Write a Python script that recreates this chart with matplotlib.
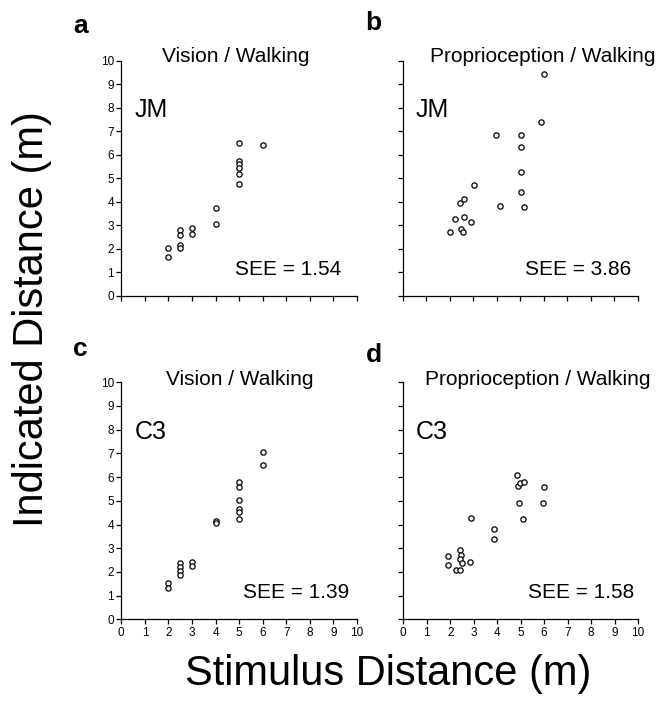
import matplotlib
matplotlib.use("Agg")
import matplotlib.pyplot as plt

plt.rcParams["font.family"] = ["Liberation Sans", "DejaVu Sans"]

# a: JM, Vision / Walking
jm_vis_x = [2, 2, 2.5, 2.5, 2.5, 2.5, 3, 3, 4, 4, 5, 5, 5, 5, 5, 5, 6]
jm_vis_y = [2.06, 1.67, 2.79, 2.58, 2.18, 2.06, 2.89, 2.65, 3.74, 3.05,
            6.50, 5.72, 5.62, 5.45, 5.19, 4.77, 6.40]

# b: JM, Proprioception / Walking
jm_prop_x = [5.99, 5.89, 3.95, 5.04, 5.03, 5.04, 5.03, 4.13, 5.14, 3.04,
             2.61, 2.44, 2.23, 2.60, 2.91, 2.03, 2.46, 2.57]
jm_prop_y = [9.45, 7.41, 6.83, 6.83, 6.32, 5.28, 4.43, 3.83, 3.78, 4.71,
             4.12, 3.96, 3.27, 3.35, 3.15, 2.72, 2.84, 2.72]

# c: C3, Vision / Walking
c3_vis_x = [2, 2, 2.5, 2.5, 2.5, 2.5, 3, 3, 4, 4, 5, 5, 5, 5, 5, 5, 6, 6]
c3_vis_y = [1.52, 1.34, 2.36, 2.22, 2.04, 1.87, 2.43, 2.25, 4.14, 4.05,
            5.78, 5.60, 5.04, 4.66, 4.51, 4.23, 7.05, 6.53]

# d: C3, Proprioception / Walking
c3_prop_x = [4.85, 4.88, 4.99, 5.15, 5.99, 4.95, 5.97, 5.09, 2.88, 3.86,
             3.86, 2.43, 2.45, 2.43, 2.48, 1.90, 1.90, 2.23, 2.40, 2.85]
c3_prop_y = [6.09, 5.63, 5.77, 5.81, 5.57, 4.89, 4.92, 4.23, 4.29, 3.81,
             3.39, 2.94, 2.71, 2.53, 2.37, 2.65, 2.29, 2.07, 2.09, 2.43]

panel_letters = ["a", "b", "c", "d"]
panel_titles = ["Vision / Walking", "Proprioception / Walking",
                "Vision / Walking", "Proprioception / Walking"]
subjects = ["JM", "JM", "C3", "C3"]
see_values = [1.54, 3.86, 1.39, 1.58]
ticks = list(range(0, 11))

W, H = 671, 703
fig = plt.figure(figsize=(W / 100, H / 100), dpi=100)

# axes boxes in pixels: left, top, right, bottom
boxes = [(121.3, 60.7, 357, 296), (402.7, 60.7, 638, 296),
         (121.3, 382.3, 357, 619.3), (403.3, 382.3, 638, 619.3)]
data = [(jm_vis_x, jm_vis_y), (jm_prop_x, jm_prop_y),
        (c3_vis_x, c3_vis_y), (c3_prop_x, c3_prop_y)]
see_x = [4.83, 5.2, 5.15, 5.3]
title_cx = [236, 543, 240, 538]
title_base = [62, 62, 385, 385]
letter_pos = [(73, 33), (365, 30), (73, 356), (366, 362)]

for i, (l, t, r, b) in enumerate(boxes):
    ax = fig.add_axes([l / W, 1 - b / H, (r - l) / W, (b - t) / H])
    x, y = data[i]
    ax.plot(x, y, "o", mfc="white", mec="black", ms=3.8, mew=0.9,
            linestyle="none", clip_on=False)
    ax.set_xlim(0, 10)
    ax.set_ylim(0, 10)
    ax.set_xticks(ticks)
    ax.set_yticks(ticks)
    ax.spines["top"].set_visible(False)
    ax.spines["right"].set_visible(False)
    for s in ("left", "bottom"):
        ax.spines[s].set_linewidth(0.9)
    ax.tick_params(direction="out", length=3.8, width=0.9, labelsize=8.5,
                   pad=1.5)
    if i in (0, 1):
        ax.set_xticklabels([])
    if i in (1, 3):
        ax.set_yticklabels([])
    ax.text(0.55, 7.6, subjects[i], fontsize=18, va="baseline")
    ax.text(see_x[i], 0.88, f"SEE = {see_values[i]:.2f}", fontsize=15,
            va="baseline")
    fig.text(title_cx[i] / W, 1 - title_base[i] / H, panel_titles[i],
             fontsize=15, ha="center", va="baseline")
    lx, ly = letter_pos[i]
    fig.text(lx / W, 1 - ly / H, panel_letters[i], fontsize=19,
             fontweight="bold", va="baseline")

fig.text(52 / W, 1 - 319 / H, "Indicated Distance (m)", fontsize=30,
         rotation=90, ha="right", va="center")
fig.text(388 / W, 1 - 685 / H, "Stimulus Distance (m)", fontsize=30,
         ha="center", va="baseline")

fig.savefig("out.png", dpi=100)
